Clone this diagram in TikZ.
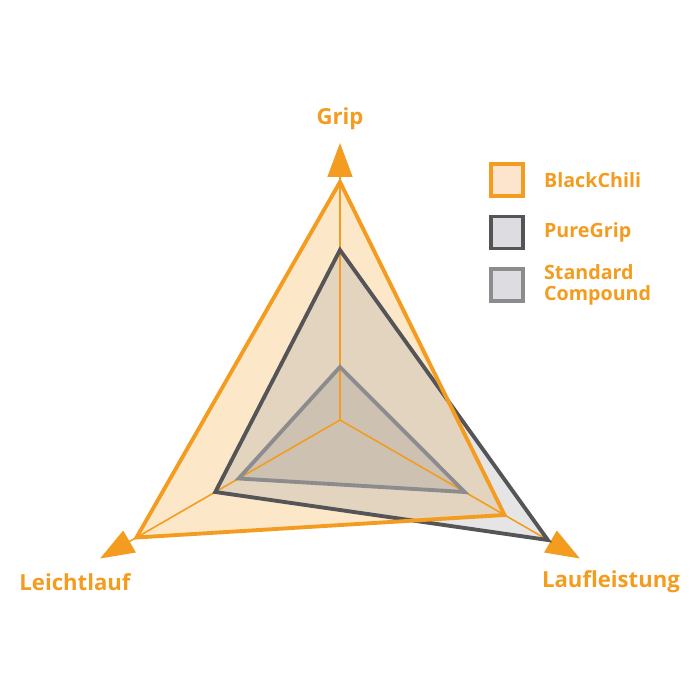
\documentclass[tikz,border=0pt]{standalone}
\usepackage{fontspec}
\setmainfont{Open Sans}
\usetikzlibrary{arrows.meta,positioning}
\definecolor{chili}{RGB}{243,156,31}
\definecolor{puregrip}{RGB}{85,85,88}
\definecolor{standard}{RGB}{140,140,143}
\definecolor{peach}{RGB}{252,229,204}
\definecolor{lightgrey}{RGB}{221,221,225}

\begin{document}
\begin{tikzpicture}[x=0.02cm, y=0.02cm, node distance=1.05cm,
	axis/.style={draw=chili, line width=0.9pt, -{Triangle[length=0.68cm, width=0.5cm]}},
	series/.style={line width=2.2pt, line join=miter},
	legbox/.style={rectangle, minimum size=0.64cm, line width=2.2pt},
	legtext/.style={text=chili, font=\bfseries\fontsize{11.2}{11.6}\selectfont, align=left, anchor=west},
	axlabel/.style={text=chili, font=\bfseries\fontsize{12.6}{15}\selectfont}]
					\useasboundingbox (-340,-280) rectangle (360,420);

					% centre and axis tips
					\coordinate (c) at (0,0);
					\coordinate (gtip) at (90:277);
					\coordinate (ltip) at (210:277);
					\coordinate (rtip) at (330:277);

					% BlackChili
					\coordinate (b1) at (90:238);
					\coordinate (b2) at (210:235);
					\coordinate (b3) at (330:190);
					% PureGrip
					\coordinate (p1) at (90:170);
					\coordinate (p2) at (210:144);
					\coordinate (p3) at (330:240);
					% Standard Compound
					\coordinate (s1) at (90:53);
					\coordinate (s2) at (210:117);
					\coordinate (s3) at (330:144);

					\fill[chili, opacity=0.24] (b1) -- (b2) -- (b3) -- cycle;
					\fill[black!20!lightgrey!70!gray, opacity=0.28] (p1) -- (p2) -- (p3) -- cycle;
					\fill[gray, opacity=0.22] (s1) -- (s2) -- (s3) -- cycle;

					\draw[axis] (c) -- (gtip);
					\draw[axis] (c) -- (ltip);
					\draw[axis] (c) -- (rtip);

					\draw[series, draw=puregrip] (p1) -- (p2) -- (p3) -- cycle;
					\draw[series, draw=standard] (s1) -- (s2) -- (s3) -- cycle;
					\draw[series, draw=chili] (b1) -- (b2) -- (b3) -- cycle;

					\node[axlabel] (grip) at (0,301) {Grip};
					\node[axlabel] (leicht) at (-265,-162) {Leichtlauf};
					\node[axlabel] (lauf) at (271,-162) {Laufleistung};

					% legend
					\node[legbox, draw=chili, fill=peach] (bcbox) at (167,240) {};
					\node[legbox, draw=puregrip, fill=lightgrey] (pgbox) [below of = bcbox] {};
					\node[legbox, draw=standard, fill=lightgrey] (scbox) [below of = pgbox] {};
					\node[legtext] (bctext) at ([xshift=0.26cm]bcbox.east) {BlackChili};
					\node[legtext] (pgtext) at ([xshift=0.26cm]pgbox.east) {PureGrip};
					\node[legtext] (sctext) at ([xshift=0.26cm]scbox.east) {Standard\\Compound};
				\end{tikzpicture}
\end{document}
